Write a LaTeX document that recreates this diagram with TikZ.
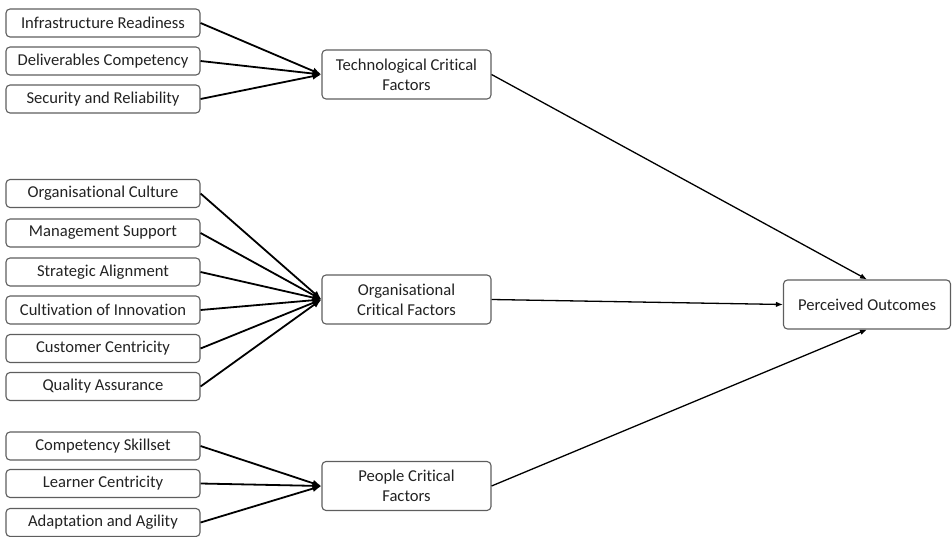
\documentclass[tikz,border=0pt]{standalone}
\usepackage{fontspec}
\setmainfont[Ligatures=NoCommon]{Carlito}
\usetikzlibrary{arrows.meta}
\definecolor{txt}{HTML}{222222}
\definecolor{edge}{HTML}{5E5E5E}
\tikzset{
  box/.style={draw=edge, line width=1.1pt, rounded corners=4pt, text=txt,
    font=\fontsize{16.6}{20}\selectfont, align=center, inner sep=0pt},
  leaf/.style={box, minimum width=194pt, minimum height=28pt},
  hub/.style={box, minimum width=169pt, minimum height=49pt},
  inarrow/.style={line width=1.8pt, -{Latex[length=9pt,width=7pt]}},
  outarrow/.style={line width=1.3pt, -{Latex[length=7pt,width=5.5pt]}}
}
\begin{document}
\begin{tikzpicture}[x=1pt,y=-1pt]
\useasboundingbox (0,0) rectangle (952,537);
% technological
\node[leaf] (ir) at (103,23) {Infrastructure Readiness};
\node[leaf] (dc) at (103,61) {Deliverables Competency};
\node[leaf] (sr) at (103,99) {Security and Reliability};
\node[hub] (tech) at (406.5,74.5) {Technological Critical\\Factors};
% organisational
\node[leaf] (oc) at (103,193.5) {Organisational Culture};
\node[leaf] (ms) at (103,233) {Management Support};
\node[leaf] (sa) at (103,272) {Strategic Alignment};
\node[leaf] (ci) at (103,310) {Cultivation of Innovation};
\node[leaf] (cc) at (103,348.5) {Customer Centricity};
\node[leaf] (qa) at (103,386.5) {Quality Assurance};
\node[hub] (org) at (406.5,299.5) {Organisational\\Critical Factors};
% people
\node[leaf] (cs) at (103,446) {Competency Skillset};
\node[leaf] (lc) at (103,483.5) {Learner Centricity};
\node[leaf] (aa) at (103,522.5) {Adaptation and Agility};
\node[hub] (ppl) at (406.5,486) {People Critical\\Factors};
% outcome
\node[box, minimum width=167pt, minimum height=49pt] (po) at (867,304.5) {Perceived Outcomes};
% inputs
\foreach \s in {ir,dc,sr} \draw[inarrow] (\s.east) -- (tech.west);
\foreach \s in {oc,ms,sa,ci,cc,qa} \draw[inarrow] (\s.east) -- (org.west);
\foreach \s in {cs,lc,aa} \draw[inarrow] (\s.east) -- (ppl.west);
% outputs
\draw[outarrow] (tech.east) -- (po.north);
\draw[outarrow] (org.east) -- (po.west);
\draw[outarrow] (ppl.east) -- (po.south);
\end{tikzpicture}
\end{document}
